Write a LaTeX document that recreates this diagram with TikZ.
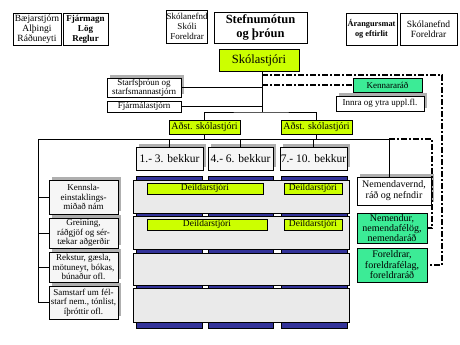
\documentclass[tikz,border=0pt]{standalone}
\usepackage{fontspec}
\setmainfont{Liberation Serif}
\usetikzlibrary{shadows}
\definecolor{limeg}{RGB}{204,255,0}
\definecolor{mint}{RGB}{60,235,150}
\definecolor{navyb}{RGB}{51,51,153}
\definecolor{rowgray}{RGB}{234,234,234}
\definecolor{shad}{RGB}{175,175,175}
\definecolor{boxgray}{RGB}{246,246,246}
\newcommand\fs[2]{\fontsize{#1}{#2}\selectfont}
\newcommand\bx[7][]{\node[bxs,#1,minimum width={(#5-#3)*1pt},minimum height={(#6-#4)*1pt}] (#2) at ({(#3+#5)/2},{(#4+#6)/2}) {#7};}
\tikzset{
  bxs/.style={draw=black, line width=0.8pt, inner sep=0pt, align=center, fill=white},
  shd/.style={drop shadow={shadow xshift=3pt, shadow yshift=3pt, fill=shad, opacity=1}},
  lg/.style={fill=limeg},
  mg/.style={fill=mint},
  gb/.style={fill=boxgray},
  ln/.style={draw=black, line width=0.8pt},
  dl/.style={draw=black, line width=1.4pt, dash pattern=on 6pt off 2pt on 2pt off 2pt},
  sm/.style={font=\fs{9.5}{10}},
  lb/.style={shd, gb, font=\fs{9}{9.6}},
}
\begin{document}
\begin{tikzpicture}[x=1pt,y=-1pt]
\useasboundingbox[fill=white] (0,0) rectangle (460,345);
% top row
\bx[sm]{baej}{13}{13}{61}{45}{Bæjarstjórn\\Alþingi\\Ráðuneyti}
\bx[font=\fs{9}{10}\bfseries]{fjarm}{63}{13}{108}{45}{Fjármagn\\Lög\\Reglur}
\bx[font=\fs{9}{10}]{skn1}{167}{10}{207}{43}{Skólanefnd\\Skóli\\Foreldrar}
\bx[font=\fs{12.5}{14}\bfseries]{stef}{214}{12}{307}{43}{Stefnumótun\\og þróun}
\bx[font=\fs{8.3}{10}\bfseries]{arang}{346}{13}{397}{45}{Árangursmat\\og eftirlit}
\bx[sm]{skn2}{400}{13}{457}{45}{Skólanefnd\\Foreldrar}
% management
\bx[lg,font=\fs{12.5}{13}]{skst}{219}{49}{299}{71}{Skólastjóri}
\bx[shd,font=\fs{9}{9}]{starf}{107}{78}{181}{97}{Starfsþróun og\\starfsmannastjórn}
\bx[font=\fs{9}{9}]{fjarmal}{107}{101}{181}{112}{Fjármálastjórn}
\bx[mg,font=\fs{9}{9}]{kenn}{353}{78}{422}{92}{Kennararáð}
\bx[shd,font=\fs{9}{9}]{innra}{336}{96}{424}{111}{Innra og ytra uppl.fl.}
\bx[lg,font=\fs{10}{11}]{adst1}{169}{120}{240}{134}{Aðst. skólastjóri}
\bx[lg,font=\fs{10}{11}]{adst2}{281}{120}{352}{134}{Aðst. skólastjóri}
% grades
\bx[shd,gb,font=\fs{11.5}{12}]{b1}{136}{147}{203}{170}{1.- 3. bekkur}
\bx[shd,gb,font=\fs{11.5}{12}]{b2}{208}{147}{273}{170}{4.- 6. bekkur}
\bx[shd,gb,font=\fs{11.5}{12}]{b3}{280}{147}{347}{170}{7.- 10. bekkur}
% grid
\draw[fill=navyb, line width=0.6pt] (136,176) rectangle (202,328);
\draw[fill=navyb, line width=0.6pt] (208,176) rectangle (273,328);
\draw[fill=navyb, line width=0.6pt] (281,176) rectangle (347,328);
\draw[fill=rowgray, line width=0.8pt] (133,180) rectangle (349,213);
\draw[fill=rowgray, line width=0.8pt] (133,216) rectangle (349,249);
\draw[fill=rowgray, line width=0.8pt] (133,253) rectangle (349,285);
\draw[fill=rowgray, line width=0.8pt] (133,288) rectangle (349,322);
\bx[lg,font=\fs{9.5}{10}]{d11}{147}{183}{263}{194}{Deildarstjóri}
\bx[lg,font=\fs{9.5}{10}]{d12}{284}{183}{342}{194}{Deildarstjóri}
\bx[lg,font=\fs{9.5}{10}]{d21}{147}{219}{267}{230}{Deildarstjóri}
\bx[lg,font=\fs{9.5}{10}]{d22}{284}{219}{342}{230}{Deildarstjóri}
% left boxes
\bx[lb]{kb}{49}{180}{118}{214}{Kennsla-\\einstaklings-\\miðað nám}
\bx[lb]{gr}{49}{218}{118}{248}{Greining,\\ráðgjöf og sér-\\tækar aðgerðir}
\bx[lb]{rk}{49}{252}{118}{282}{Rekstur, gæsla,\\mötuneyt, bókas,\\búnaður ofl.}
\bx[lb]{sa}{49}{286}{118}{319}{Samstarf um fél-\\starf nem., tónlist,\\íþróttir ofl.}
% right boxes
\bx[shd,font=\fs{10}{11}]{nv}{357}{177}{431}{205}{Nemendavernd,\\ráð og nefndir}
\bx[mg,font=\fs{10}{9.6}]{nem}{357}{213}{427}{243}{Nemendur,\\nemendafélög,\\nemendaráð}
\bx[mg,font=\fs{10}{10.5}]{for}{357}{248}{427}{282}{Foreldrar,\\foreldrafélag,\\foreldraráð}
% connectors
\coordinate (j1) at (262,112);
\coordinate (h) at (38,139);
\coordinate (hr) at (389,139);
\coordinate (d1) at (262,75);
\coordinate (d2) at (442,75);
\coordinate (d3) at (432,139);
\draw[ln] (skst.south -| j1) -- (j1);
\draw[ln] (starf.east) -- (starf.east -| j1);
\draw[ln] (fjarmal.east) -- (fjarmal.east -| j1);
\draw[ln] (adst1.north) |- (j1) -| (adst2.north);
\draw[ln] (h) -- (hr);
\draw[ln] (adst1.south) -- (adst1.south |- h);
\draw[ln] (adst2.south) -- (adst2.south |- h);
\draw[ln] (b1.north) -- (b1.north |- h);
\draw[ln] (b2.north) -- (b2.north |- h);
\draw[ln] (b3.north) -- (b3.north |- h);
\draw[ln] (h) -- (h |- sa.west) -- (sa.west);
\draw[ln] (kb.west -| h) -- (kb.west);
\draw[ln] (gr.west -| h) -- (gr.west);
\draw[ln] (rk.west -| h) -- (rk.west);
\draw[ln] (hr) -- (nv.north -| hr);
\draw[dl] (d1) -- (d2) |- (for.east);
\draw[dl] (kenn.west -| j1) -- (kenn.west);
\draw[dl] (hr) -- (d3) |- (nem.east);
\end{tikzpicture}
\end{document}
